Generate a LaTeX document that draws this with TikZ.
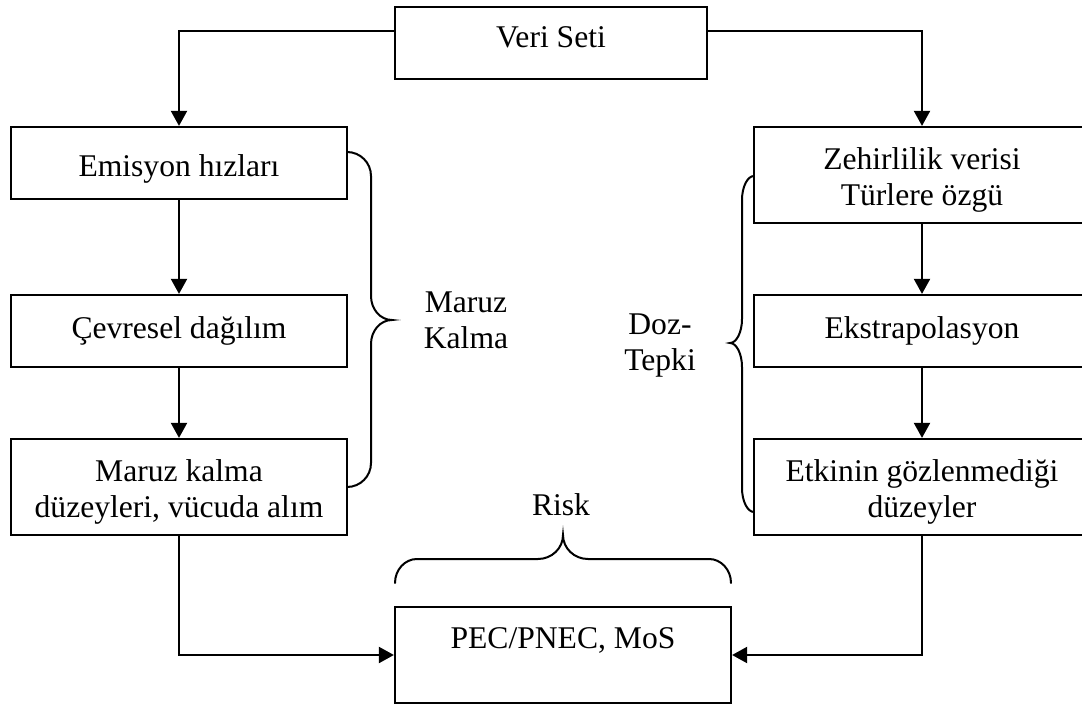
\documentclass[tikz,border=0pt]{standalone}
\usepackage{fontspec}
\setmainfont{Liberation Serif}
\usetikzlibrary{arrows.meta}
\begin{document}
\begin{tikzpicture}[x=1pt,y=-1pt,
  box/.style={draw, line width=2.2pt, rectangle, inner sep=0pt,
              minimum width=336pt, minimum height=72pt},
  tallbox/.style={box, minimum height=96pt},
  txt/.style={inner sep=0pt, align=center, font=\fontsize{31.6}{36}\selectfont},
  link/.style={line width=2pt, -{Triangle[length=15pt,width=16pt]}},
  brace/.style={line width=2pt, line cap=round}]

\useasboundingbox (0,0) rectangle (1082,706);
\clip (0,0) rectangle (1082,706);

% frames
\node[box, minimum width=312pt] (veri) at (551,43) {};
\node[box]     (emis) at (179,163) {};
\node[box]     (cevr) at (179,331) {};
\node[tallbox] (mkb)  at (179,487) {};
\node[tallbox] (zeh)  at (922,175) {};
\node[box]     (eks)  at (922,331) {};
\node[tallbox] (etk)  at (922,487) {};
\node[tallbox] (pec)  at (563,655) {};

% box captions
\node[txt] (tveri) at (551,40.8)  {\strut Veri Seti};
\node[txt] (temis) at (179,168.8) {\strut Emisyon hızları};
\node[txt] (tcevr) at (179,330.8) {\strut Çevresel dağılım};
\node[txt] (tmkb)  at (179,491.8) {\strut Maruz kalma\\\strut düzeyleri, vücuda alım};
\node[txt] (tzeh)  at (922,179.8) {\strut Zehirlilik verisi\\\strut Türlere özgü};
\node[txt] (teks)  at (922,330.8) {\strut Ekstrapolasyon};
\node[txt] (tetk)  at (922,491.8) {\strut Etkinin gözlenmediği\\\strut düzeyler};
\node[txt] (tpec)  at (563,640.8) {\strut PEC/PNEC, MoS};

% group labels
\node[txt] (lmaruz) at (466,323.3) {\strut Maruz\\\strut Kalma};
\node[txt] (ldoz)   at (660,345.3) {\strut Doz-\\\strut Tepki};
\node[txt] (lrisk)  at (561,507.8) {\strut Risk};

% flow
\draw[link] ([yshift=-25pt]veri.north west) -| (emis.north);
\draw[link] ([yshift=-25pt]veri.north east) -| (zeh.north);
\draw[link] (emis.south) -- (cevr.north);
\draw[link] (cevr.south) -- (mkb.north);
\draw[link] (zeh.south) -- (eks.north);
\draw[link] (eks.south) -- (etk.north);
\draw[link] (mkb.south) |- (pec.west);
\draw[link] (etk.south) |- (pec.east);

% braces
\draw[brace] (347,152) .. controls (360.3,152) and (371,162.7) .. (371,176)
  -- (371,296) .. controls (371,309.3) and (380.4,320) .. (392,320)
  .. controls (380.4,320) and (371,330.7) .. (371,344)
  -- (371,463) .. controls (371,476.3) and (360.3,487) .. (347,487);

\draw[brace] (754,176) .. controls (747.4,176) and (742,187) .. (742,200)
  -- (742,319) .. controls (742,332) and (736.6,343) .. (730,343)
  .. controls (736.6,343) and (742,354) .. (742,367)
  -- (742,488) .. controls (742,501) and (747.4,512) .. (754,512);

\draw[brace] (395,583) .. controls (395,569.7) and (404.9,559) .. (417,559)
  -- (538,559) .. controls (551.8,559) and (563,548.3) .. (563,535)
  .. controls (563,548.3) and (574.2,559) .. (588,559)
  -- (709,559) .. controls (721.1,559) and (731,569.7) .. (731,583);
\end{tikzpicture}
\end{document}
